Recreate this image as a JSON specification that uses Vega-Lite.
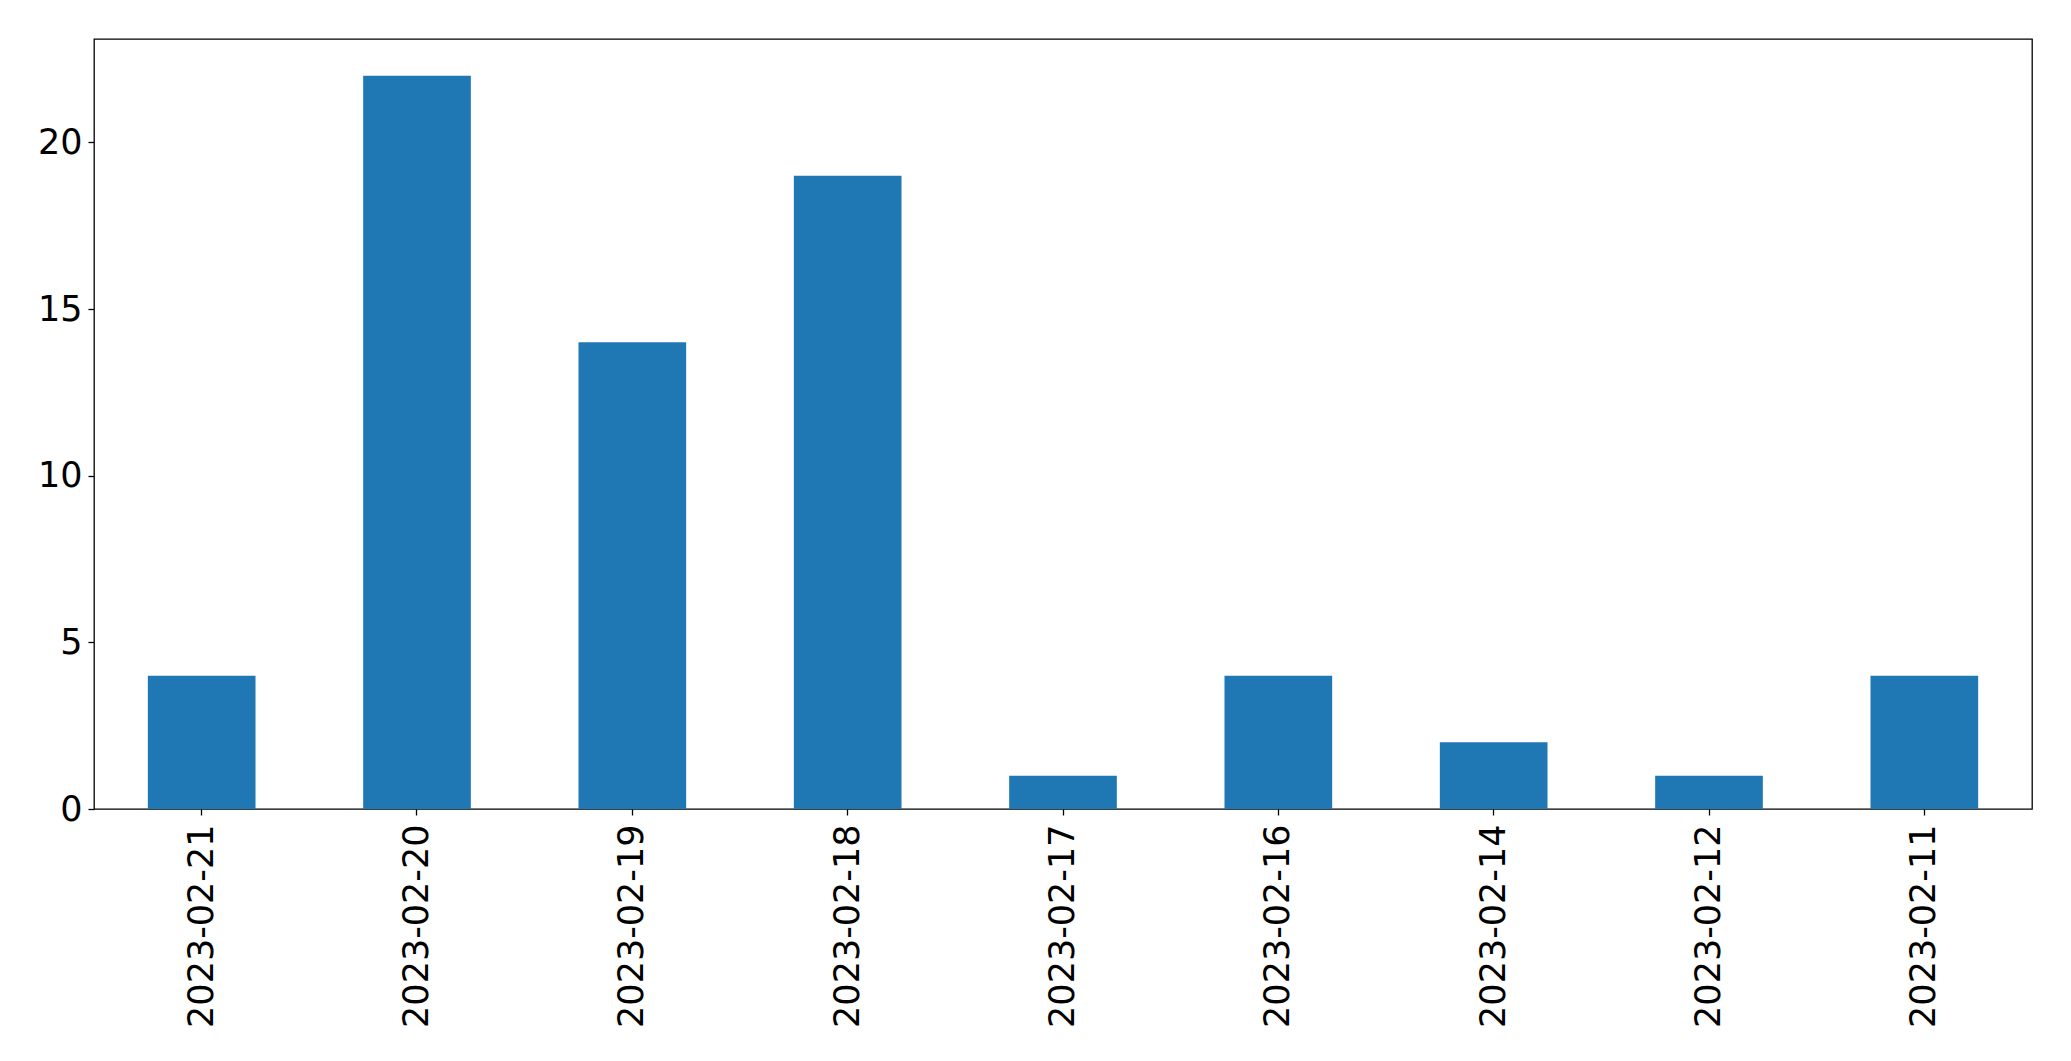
{
  "$schema": "https://vega.github.io/schema/vega-lite/v6.json",
  "autosize": "none",
  "width": 1938,
  "height": 770,
  "padding": {"left": 94, "top": 39, "right": 39, "bottom": 252},
  "background": "white",
  "config": {
    "view": {"stroke": "black", "strokeWidth": 1.3},
    "axis": {
      "labelFont": "DejaVu Sans",
      "labelFontSize": 35,
      "labelColor": "black",
      "labelLimit": 500,
      "tickColor": "black",
      "tickSize": 6,
      "tickWidth": 1.3,
      "domain": false,
      "grid": false,
      "title": null
    }
  },
  "data": {
    "values": [
      {"date": "2023-02-21", "count": 4},
      {"date": "2023-02-20", "count": 22},
      {"date": "2023-02-19", "count": 14},
      {"date": "2023-02-18", "count": 19},
      {"date": "2023-02-17", "count": 1},
      {"date": "2023-02-16", "count": 4},
      {"date": "2023-02-14", "count": 2},
      {"date": "2023-02-12", "count": 1},
      {"date": "2023-02-11", "count": 4}
    ]
  },
  "mark": {"type": "bar", "color": "#1f77b4"},
  "encoding": {
    "x": {
      "field": "date",
      "type": "nominal",
      "sort": null,
      "scale": {"paddingInner": 0.5, "paddingOuter": 0.25},
      "axis": {"labelAngle": -90, "labelPadding": 9, "labelBaseline": "middle"}
    },
    "y": {
      "field": "count",
      "type": "quantitative",
      "scale": {"domain": [0, 23.1], "nice": false},
      "axis": {"values": [0, 5, 10, 15, 20], "labelPadding": 6}
    }
  }
}
